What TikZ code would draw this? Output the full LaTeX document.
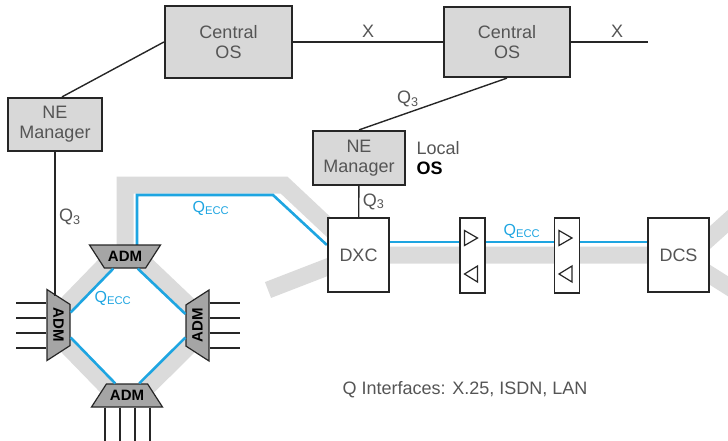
\documentclass[tikz,border=0pt]{standalone}
\usepackage{fontspec}
\setmainfont{Liberation Sans}
\usetikzlibrary{shapes.geometric, backgrounds, positioning}
\definecolor{boxgrey}{RGB}{216,216,216}
\definecolor{bandgrey}{RGB}{219,219,219}
\definecolor{admgrey}{RGB}{165,165,165}
\definecolor{eccblue}{RGB}{30,165,225}
\definecolor{txtgrey}{RGB}{85,85,85}

\begin{document}
\begin{tikzpicture}[x=1pt, y=-1pt,
    every node/.style = {font=\fontsize{18}{20}\selectfont, text=txtgrey},
    osbox/.style = {rectangle, draw=black!85, line width=2.2pt, fill=boxgrey, align=center},
    nebox/.style = {rectangle, draw=black!85, line width=2.2pt, minimum height=74pt, minimum width=61pt, fill=white},
    ampbox/.style = {rectangle, draw=black!85, line width=1.8pt, minimum height=75pt, minimum width=25pt, fill=white},
    adm/.style = {trapezium, trapezium angle=45, trapezium stretches=true, draw=black!85, line width=1.2pt,
      fill=admgrey, inner xsep=0pt, inner ysep=1pt, minimum width=71pt, minimum height=23pt,
      text=black, font=\fontsize{15}{15}\selectfont\bfseries},
    link/.style = {line width=1.4pt, black!85},
    ecc/.style = {line width=2.6pt, eccblue},
    band/.style = {line width=17pt, bandgrey},
    trib/.style = {line width=2pt, black!85},
    tri/.style = {line width=1.2pt, black!85, line join=miter},
    qlab/.style = {text=eccblue, font=\fontsize{16}{16}\selectfont}
  ]
  \useasboundingbox (0,0) rectangle (728,440);

  % management level
  \node[osbox, minimum width=127pt, minimum height=72pt] (cos1) at (228.5,42) {Central\\OS};
  \node[osbox, minimum width=126pt, minimum height=70pt] (cos2) at (507,42) {Central\\OS};
  \node[osbox, minimum width=94pt, minimum height=53pt] (nem1) at (55,124.5) {NE\\Manager};
  \node[osbox, minimum width=92pt, minimum height=54pt] (nem2) at (359,158) {NE\\Manager};
  \node[right=7pt of nem2, align=left] (locos) {Local\\\textcolor{black}{\textbf{OS}}};

  % network elements
  \node[nebox] (dxc) at (358.5,255) {DXC};
  \node[nebox] (dcs) at (678.5,255) {DCS};
  \node[ampbox] (amp1) at (472.5,255.5) {};
  \node[ampbox] (amp2) at (567,255.5) {};
  \node[adm, shape border rotate=180] (admT) at (125,256.5) {ADM};
  \node[adm, rotate=-90] (admL) at (58.5,325) {ADM};
  \node[adm, rotate=90] (admR) at (197.5,325.5) {ADM};
  \node[adm] (admB) at (127,395.5) {ADM};

  \node (qnote) at (465,390) {Q Interfaces: X.25, ISDN, LAN};

  % grey transport and blue ECC behind the boxes
  \begin{scope}[on background layer]
    \coordinate (bandA) at (284,185);
    \coordinate (bandC) at (268,290);
    \coordinate (bandD) at (745,206);
    \coordinate (bandE) at (745,297);
    \draw[band] (admT.center) -- (admT.center |- bandA) -- (bandA) -- (dxc.center) -- (dcs.center);
    \draw[band] (dxc.center) -- (bandC);
    \draw[band] ([xshift=12pt]dcs.center) -- (bandD);
    \draw[band] (dcs.center) -- (bandE);
    \foreach \p/\q/\sx/\sy in {admT/admL/-1/1, admT/admR/1/1, admB/admL/-1/-1, admB/admR/1/-1}
      \draw[band] ([shift={(\sx*6pt,\sy*6pt)}]\p.center) -- ([shift={(\sx*6pt,\sy*6pt)}]\q.center);
    \coordinate (eccA) at (137,195);
    \coordinate (eccB) at (273,195);
    \draw[ecc] (admT.center -| eccA) -- (eccA) -- (eccB) -- ([yshift=10pt]dxc.west);
    \draw[ecc] ([yshift=13pt]dxc.east) -- ([yshift=13pt]dcs.west);
  \end{scope}

  % ring
  \draw[ecc] (admT) -- (admL);
  \draw[ecc] (admT) -- (admR);
  \draw[ecc] (admL) -- (admB);
  \draw[ecc] (admR) -- (admB);
  \foreach \k in {-22.5,-7.5,7.5,22.5}{
    \draw[trib] ([yshift=\k pt]admL.south) -- ++(-30,0);
    \draw[trib] ([yshift=\k pt]admR.south) -- ++(30,0);
    \draw[trib] ([xshift=\k pt]admB.south) -- ++(0,33);
  }

  % amplifiers
  \foreach \a in {amp1,amp2}{
    \draw[tri] ([shift={(-8pt,25pt)}]\a.center) -- ++(0pt,-15pt) -- ++(13pt,7.5pt) -- cycle;
    \draw[tri] ([shift={(5pt,-10.5pt)}]\a.center) -- ++(0pt,-16pt) -- ++(-13pt,8pt) -- cycle;
  }

  % management links
  \coordinate (xend) at (648,42);
  \draw[link] (cos1) -- node[above=0pt]{X} (cos2);
  \draw[link] (cos2.east) -- node[pos=0.6, above=0pt]{X} (xend);
  \draw[link] ([xshift=7pt]nem1.north) -- (cos1.west);
  \draw[link] (cos2.south) -- node[pos=0.67, above=2pt]{Q\textsubscript{3}} (nem2.north);
  \draw[link] (nem2) -- node[right]{Q\textsubscript{3}} (dxc);
  \draw[link] (nem1.south) -- node[right, pos=0.45]{Q\textsubscript{3}} (nem1.south |- admL.west);

  \node[qlab] (qtop) at (211,208) {Q\textsubscript{ECC}};
  \node[qlab] (qring) at (113,298) {Q\textsubscript{ECC}};
  \node[qlab] (qlink) at (522,231) {Q\textsubscript{ECC}};
\end{tikzpicture}
\end{document}
